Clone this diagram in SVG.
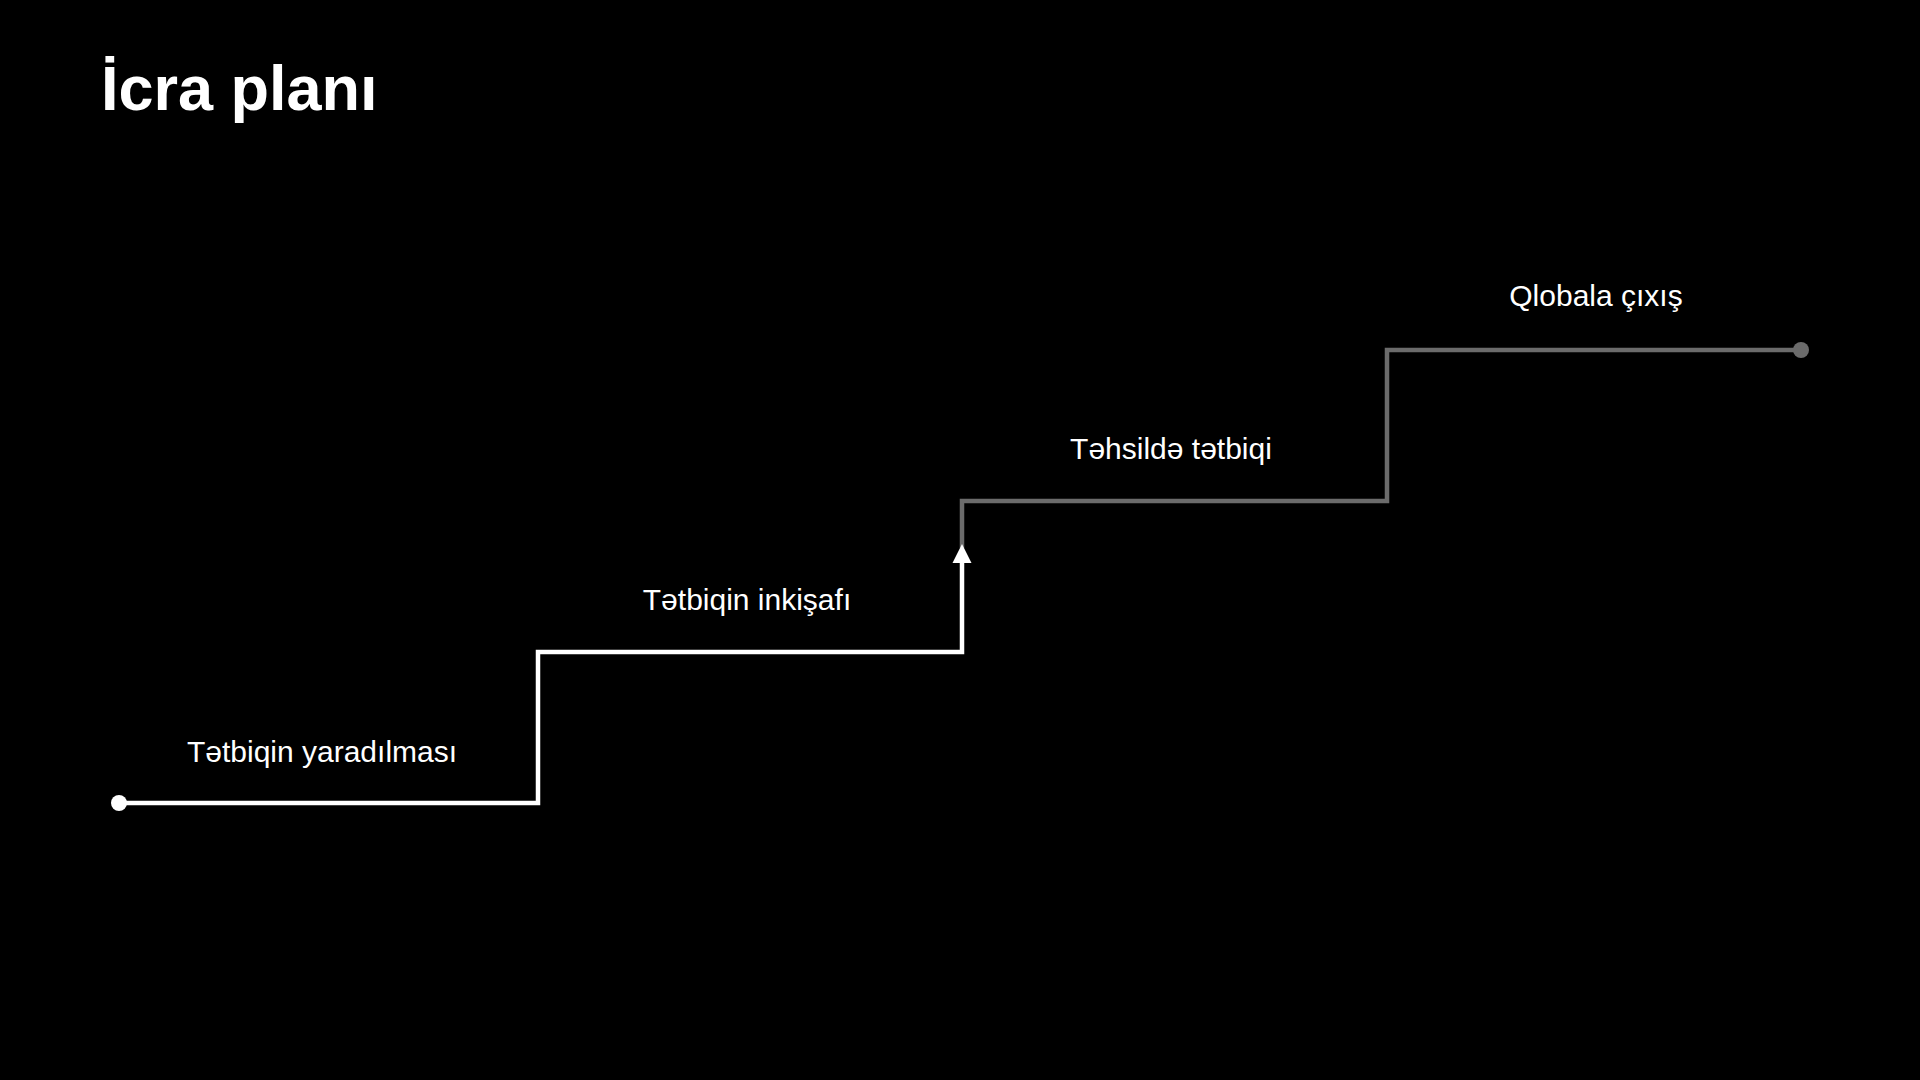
<svg xmlns="http://www.w3.org/2000/svg" width="1920" height="1080" viewBox="0 0 1920 1080">
<style>
.lbl{font-family:"Liberation Sans",Arial,sans-serif;font-size:30px;fill:#ffffff;text-anchor:middle}
.title{font-family:"Liberation Sans",Arial,sans-serif;font-size:63px;font-weight:bold;fill:#ffffff}
.done{fill:none;stroke:#ffffff;stroke-width:4.5}
.todo{fill:none;stroke:#6b6b6b;stroke-width:4.5}
</style>
<rect width="1920" height="1080" fill="#000000"/>
<text class="title" x="101" y="110">İcra planı</text>
<g id="connectors">
<polyline class="todo" points="962,548 962,501 1387,501 1387,350 1801,350"/>
<polyline class="done" points="119,803 538,803 538,652 962,652 962,560"/>
<polygon points="962,544 952.5,563 971.5,563" fill="#ffffff"/>
</g>
<g id="start"><circle cx="119" cy="803" r="8" fill="#ffffff"/></g>
<g id="end"><circle cx="1801" cy="350" r="8" fill="#6b6b6b"/></g>
<g id="step1"><text class="lbl" x="322" y="762">Tətbiqin yaradılması</text></g>
<g id="step2"><text class="lbl" x="747" y="610">Tətbiqin inkişafı</text></g>
<g id="step3"><text class="lbl" x="1171" y="459">Təhsildə tətbiqi</text></g>
<g id="step4"><text class="lbl" x="1596" y="306">Qlobala çıxış</text></g>
</svg>
